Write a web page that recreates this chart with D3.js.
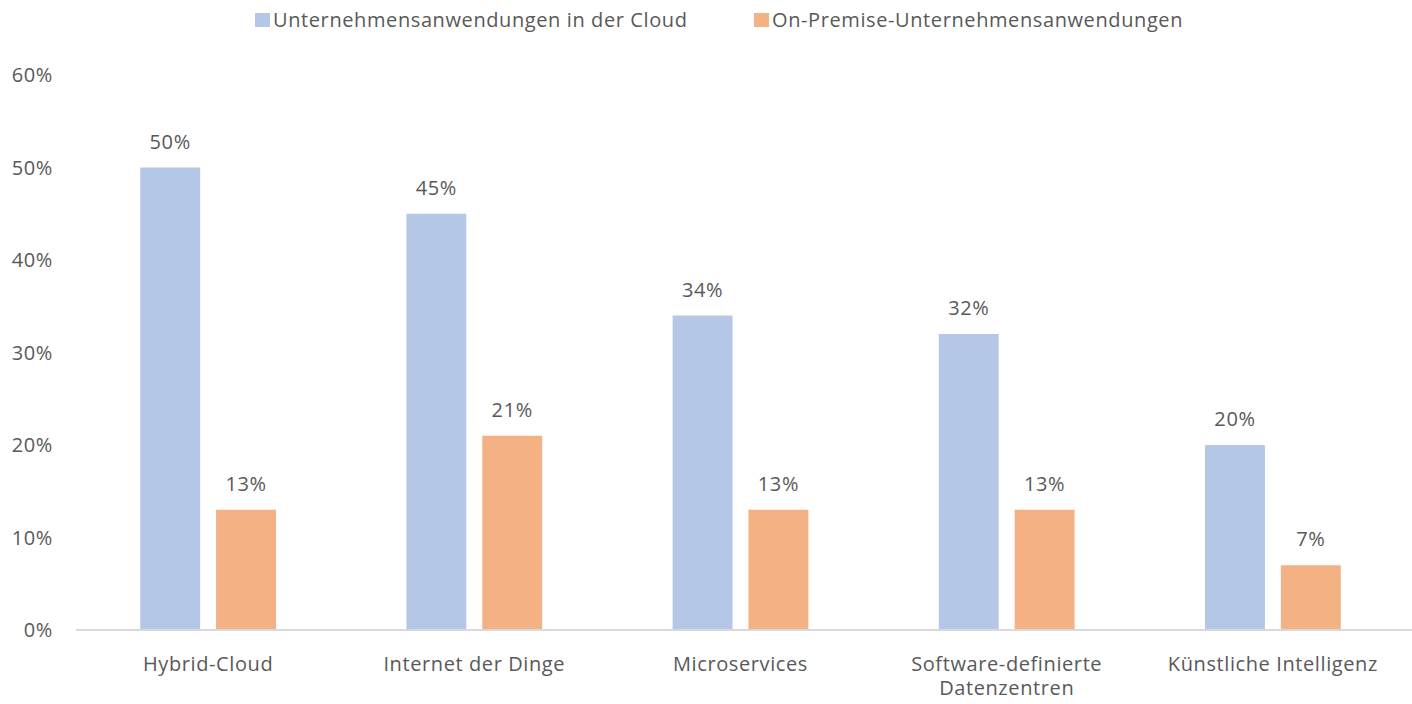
<!DOCTYPE html>
<html>
<head>
<meta charset="utf-8">
<script src="https://cdn.jsdelivr.net/npm/d3@7"></script>
<style>
  body { margin: 0; background: #fff; }
  text { font-family: "Open Sans", "Noto Sans", sans-serif; fill: #595959; letter-spacing: 0.6px; }
</style>
</head>
<body>
<div id="chart"></div>
<script>
// data
const categories = ["Hybrid-Cloud", "Internet der Dinge", "Microservices", "Software-definierte Datenzentren", "Künstliche Intelligenz"];
const series = ["Unternehmensanwendungen in der Cloud", "On-Premise-Unternehmensanwendungen"];
const cloudValues = [50, 45, 34, 32, 20];
const onPremValues = [13, 21, 13, 13, 7];
const yTicks = [0, 10, 20, 30, 40, 50, 60];
const colors = ["#b4c7e7", "#f4b183"];

const width = 1412, height = 704;
const fontSize = 20;

const svg = d3.select("#chart").append("svg")
    .attr("width", width)
    .attr("height", height);

const x0 = d3.scaleBand()
    .domain(categories)
    .range([75, 1406])
    .paddingInner(0.49)
    .paddingOuter(0.245);

const x1 = d3.scaleBand()
    .domain(series)
    .range([0, x0.bandwidth()])
    .paddingInner(0.21);

const y = d3.scaleLinear()
    .domain([0, 60])
    .range([630, 75]);

// y tick labels (no gridlines in the original)
svg.append("g").selectAll("text")
    .data(yTicks)
    .enter().append("text")
    .attr("x", 53)
    .attr("y", d => y(d))
    .attr("dy", "0.35em")
    .attr("text-anchor", "end")
    .attr("font-size", fontSize)
    .text(d => d + "%");

// bars
const rows = categories.map((c, i) => ({
    cat: c,
    vals: [cloudValues[i], onPremValues[i]]
}));

const groups = svg.append("g").selectAll("g")
    .data(rows)
    .enter().append("g")
    .attr("transform", d => "translate(" + x0(d.cat) + ",0)");

groups.selectAll("rect")
    .data(d => d.vals.map((v, j) => ({ s: series[j], v: v, j: j })))
    .enter().append("rect")
    .attr("x", d => x1(d.s))
    .attr("y", d => y(d.v))
    .attr("width", x1.bandwidth())
    .attr("height", d => y(0) - y(d.v))
    .attr("fill", d => colors[d.j]);

groups.selectAll("text")
    .data(d => d.vals.map((v, j) => ({ s: series[j], v: v })))
    .enter().append("text")
    .attr("x", d => x1(d.s) + x1.bandwidth() / 2)
    .attr("y", d => y(d.v) - 19)
    .attr("text-anchor", "middle")
    .attr("font-size", fontSize)
    .text(d => d.v + "%");

// baseline
svg.append("line")
    .attr("x1", 76)
    .attr("x2", 1412)
    .attr("y1", y(0))
    .attr("y2", y(0))
    .attr("stroke", "#d9d9d9")
    .attr("stroke-width", 2);

// category labels, wrapped where the original wraps
const wraps = { "Software-definierte Datenzentren": ["Software-definierte", "Datenzentren"] };
const catLabels = [];
categories.forEach(c => (wraps[c] || [c]).forEach((l, i) => catLabels.push({ cat: c, line: l, i: i })));

svg.append("g").selectAll("text")
    .data(catLabels)
    .enter().append("text")
    .attr("x", d => x0(d.cat) + x0.bandwidth() / 2)
    .attr("y", d => 671 + d.i * 24)
    .attr("text-anchor", "middle")
    .attr("font-size", fontSize)
    .text(d => d.line);

// legend
const legendX = [255, 754];
const legend = svg.append("g").selectAll("g")
    .data(series)
    .enter().append("g")
    .attr("transform", (d, i) => "translate(" + legendX[i] + ",0)");

legend.append("rect")
    .attr("x", 0)
    .attr("y", 13)
    .attr("width", 15)
    .attr("height", 14)
    .attr("fill", (d, i) => colors[i]);

legend.append("text")
    .attr("x", 18)
    .attr("y", 27)
    .attr("font-size", fontSize)
    .text(d => d);
</script>
</body>
</html>
